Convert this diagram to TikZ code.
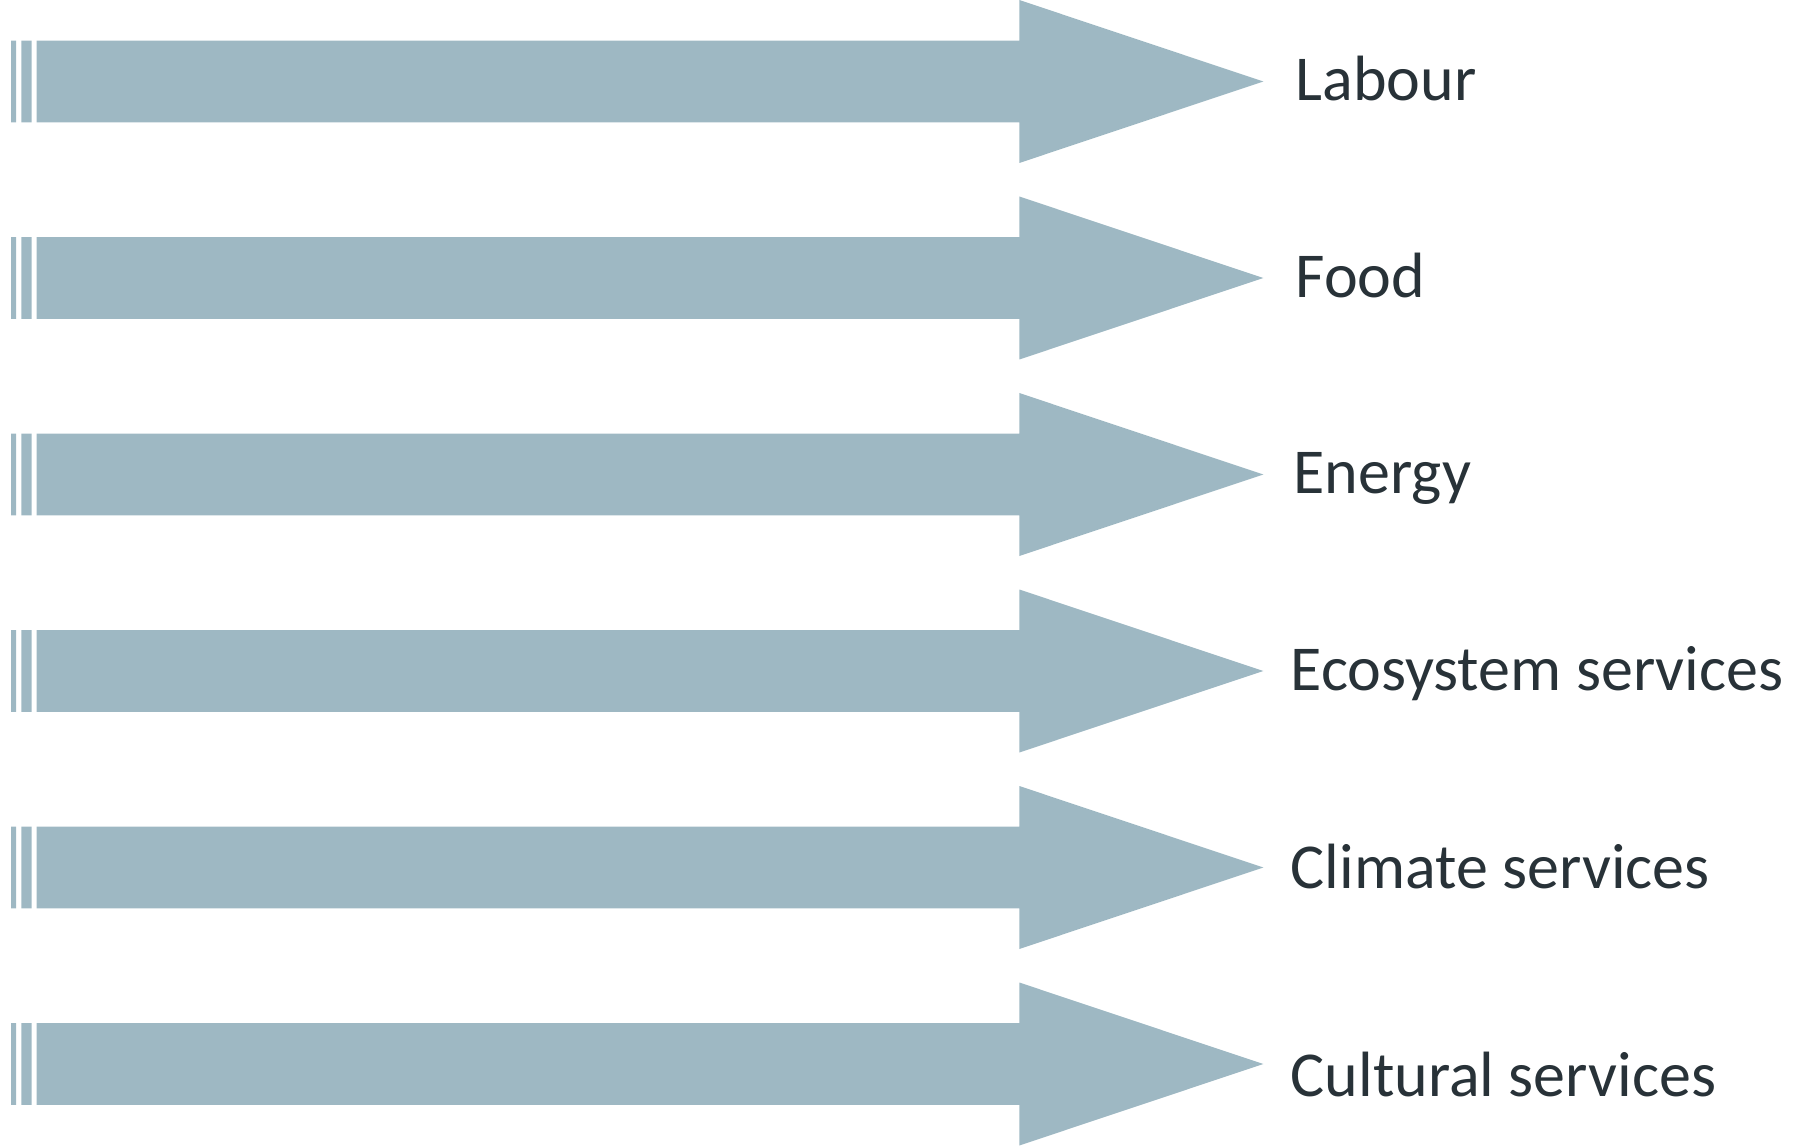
\documentclass[tikz,border=0pt]{standalone}
\usepackage{fontspec}
\setmainfont{Carlito}
\usepackage{tikz}
\definecolor{flowblue}{HTML}{9EB8C3}
\definecolor{labelgrey}{HTML}{283238}

\begin{document}
\begin{tikzpicture}[x=0.01cm,y=-0.01cm,
    flow/.style={fill=flowblue,draw=none},
    lbl/.style={anchor=base west,inner sep=0pt,text=labelgrey,font=\fontsize{18.2}{21}\selectfont}]
          \useasboundingbox (0,0) rectangle (1794,1146);
          % Labour
          \fill[flow] (11,40.7) rectangle (16,122.3) (21.3,40.7) rectangle (31.7,122.3);
          \fill[flow] (36.7,40.7) -- (1019.3,40.7) -- (1019.3,0) -- (1263.3,81.5) -- (1019.3,163) -- (1019.3,122.3) -- (36.7,122.3) -- cycle;
          \node[lbl] (labour) at (1295,101) {Labour};
          % Food
          \fill[flow] (11,237.2) rectangle (16,318.8) (21.3,237.2) rectangle (31.7,318.8);
          \fill[flow] (36.7,237.2) -- (1019.3,237.2) -- (1019.3,196.5) -- (1263.3,278) -- (1019.3,359.5) -- (1019.3,318.8) -- (36.7,318.8) -- cycle;
          \node[lbl] (food) at (1295,297.5) {Food};
          % Energy
          \fill[flow] (11,433.7) rectangle (16,515.3) (21.3,433.7) rectangle (31.7,515.3);
          \fill[flow] (36.7,433.7) -- (1019.3,433.7) -- (1019.3,393) -- (1263.3,474.5) -- (1019.3,556) -- (1019.3,515.3) -- (36.7,515.3) -- cycle;
          \node[lbl] (energy) at (1293,494) {Energy};
          % Ecosystem services
          \fill[flow] (11,630.2) rectangle (16,711.8) (21.3,630.2) rectangle (31.7,711.8);
          \fill[flow] (36.7,630.2) -- (1019.3,630.2) -- (1019.3,589.5) -- (1263.3,671) -- (1019.3,752.5) -- (1019.3,711.8) -- (36.7,711.8) -- cycle;
          \node[lbl] (ecosystem) at (1290,690.5) {Ecosystem services};
          % Climate services
          \fill[flow] (11,826.7) rectangle (16,908.3) (21.3,826.7) rectangle (31.7,908.3);
          \fill[flow] (36.7,826.7) -- (1019.3,826.7) -- (1019.3,786) -- (1263.3,867.5) -- (1019.3,949) -- (1019.3,908.3) -- (36.7,908.3) -- cycle;
          \node[lbl] (climate) at (1290,888.5) {Climate services};
          % Cultural services
          \fill[flow] (11,1023.2) rectangle (16,1104.8) (21.3,1023.2) rectangle (31.7,1104.8);
          \fill[flow] (36.7,1023.2) -- (1019.3,1023.2) -- (1019.3,982.5) -- (1263.3,1064) -- (1019.3,1145.5) -- (1019.3,1104.8) -- (36.7,1104.8) -- cycle;
          \node[lbl] (cultural) at (1290,1096.5) {Cultural services};
        \end{tikzpicture}
\end{document}
